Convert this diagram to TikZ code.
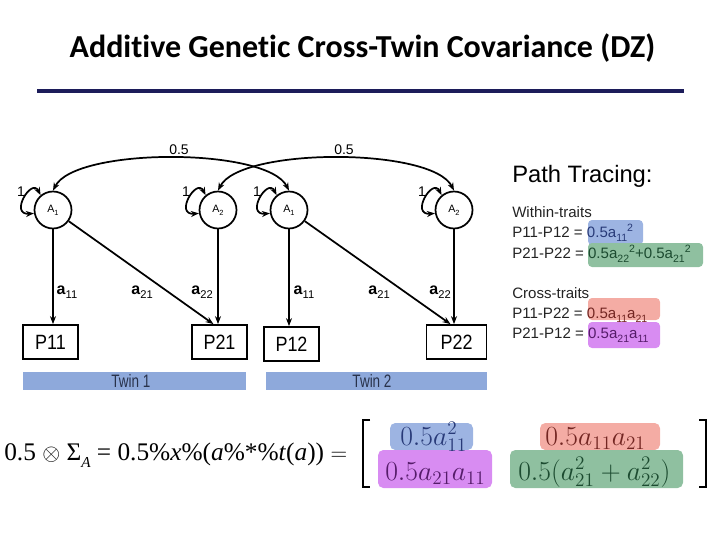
\documentclass[tikz,border=0pt]{standalone}
\usepackage{graphicx}
\usepackage{fontspec}
\setmainfont{Liberation Sans}
\newfontfamily\titlefont[Ligatures=CommonOff]{Carlito}
\newfontfamily\eqfont{Liberation Serif}
\usetikzlibrary{arrows.meta}
\definecolor{navyline}{RGB}{28,28,90}
\definecolor{barblue}{RGB}{142,169,219}
\definecolor{bartext}{RGB}{40,50,75}
\definecolor{hlblue}{RGB}{157,180,226}
\definecolor{hlgreen}{RGB}{143,192,160}
\definecolor{hlred}{RGB}{244,172,164}
\definecolor{hlpurple}{RGB}{216,140,242}
\definecolor{txblue}{RGB}{40,58,120}
\definecolor{txgreen}{RGB}{28,75,48}
\definecolor{txred}{RGB}{115,38,34}
\definecolor{txpurple}{RGB}{85,28,105}
\definecolor{txgrey}{RGB}{35,35,35}
\newcommand{\mysub}[1]{\raisebox{-0.28em}{\scalebox{0.7}{#1}}}
\newcommand{\mysup}[1]{\raisebox{0.38em}{\scalebox{0.7}{#1}}}
\newcommand{\hs}[1]{\scalebox{0.87}[1]{#1}}
\begin{document}
\begin{tikzpicture}[x=0.75pt,y=0.75pt,
  latent/.style={circle, draw, line width=1.3pt, minimum size=27.75pt, inner sep=0pt, font=\fontsize{8}{9}\selectfont},
  manifest/.style={rectangle, draw, line width=1.3pt, minimum width=41.25pt, minimum height=25.5pt, inner sep=0pt, font=\fontsize{15.5}{18}\selectfont},
  onepath/.style={line width=1.3pt, -{Stealth[length=6pt,width=4.5pt]}},
  twopath/.style={line width=1.3pt, {Stealth[length=6pt,width=4.5pt]}-{Stealth[length=6pt,width=4.5pt]}},
  loadlab/.style={font=\fontsize{12}{14}\selectfont},
  numlab/.style={font=\fontsize{10.5}{12}\selectfont},
  twinbar/.style={fill=barblue, draw=none, inner sep=0pt, minimum height=13.5pt, text=bartext, font=\fontsize{13.5}{15}\selectfont},
  rtext/.style={anchor=base west, inner sep=0pt, text=txgrey, font=\fontsize{11.3}{13}\selectfont},
  mtext/.style={anchor=base west, inner sep=0pt, font=\fontsize{21}{25}\selectfont}
]
\useasboundingbox (0,0) rectangle (720,540);

% title
\node[font=\titlefont\bfseries\fontsize{24}{28}\selectfont] (title) at (362.5,492) {Additive Genetic Cross-Twin Covariance (DZ)};
\coordinate (ruleL) at (37,449);
\coordinate (ruleR) at (684,449);
\draw[line width=3pt, navyline] (ruleL) -- (ruleR);

% latent variables
\node[latent] (A11) at (53,330) {A\mysub{1}};
\node[latent] (A21) at (218,330) {A\mysub{2}};
\node[latent] (A12) at (289,330) {A\mysub{1}};
\node[latent] (A22) at (454,330) {A\mysub{2}};

% manifest variables
\node[manifest] (P11) at (50.5,198) {\hs{P11}};
\node[manifest] (P21) at (219.5,198) {\hs{P21}};
\node[manifest] (P12) at (291.5,196) {\hs{P12}};
\node[manifest, minimum width=45pt] (P22) at (456.5,198) {\hs{P22}};

% self loops
\foreach \n in {A11,A21,A12,A22}{
  \draw[twopath] (\n.130) .. controls +(-9,18) and +(-25,-2) .. (\n.190);
  \node[numlab] (one\n) at ([shift={(-32,18)}]\n.center) {1};
}

% covariances
\draw[twopath] (A11.north) .. controls +(22,43.5) and +(-22,43.5) .. (A12.north);
\draw[twopath] (A21.north) .. controls +(22,43.5) and +(-22,43.5) .. (A22.north);
\node[numlab] (cov1) at (179,390) {0.5};
\node[numlab] (cov2) at (344,390) {0.5};

% loadings
\draw[onepath] (A11) -- (A11 |- P11.north);
\draw[onepath] (A11) -- ([xshift=-4.5pt]P21.north);
\draw[onepath] (A21) -- (A21 |- P21.north);
\draw[onepath] (A12) -- (A12 |- P12.north);
\draw[onepath] (A12) -- ([xshift=-4.5pt]P22.north);
\draw[onepath] (A22) -- (A22 |- P22.north);

\node[loadlab] (l11a) at (67,248) {\textbf{a}\mysub{11}};
\node[loadlab] (l21a) at (142,248) {\textbf{a}\mysub{21}};
\node[loadlab] (l22a) at (202,248) {\textbf{a}\mysub{22}};
\node[loadlab] (l11b) at (304,248) {\textbf{a}\mysub{11}};
\node[loadlab] (l21b) at (379,248) {\textbf{a}\mysub{21}};
\node[loadlab] (l22b) at (440,248) {\textbf{a}\mysub{22}};

% twin bars
\node[twinbar, minimum width=167.25pt] (bar1) at (134.5,159) {};
\node[twinbar, minimum width=165.75pt] (bar2) at (376.5,159) {};
\node[text=bartext, font=\fontsize{13.5}{15}\selectfont, inner sep=0pt] (tw1) at (131,159) {\scalebox{0.75}[1]{Twin 1}};
\node[text=bartext, font=\fontsize{13.5}{15}\selectfont, inner sep=0pt] (tw2) at (372,159) {\scalebox{0.75}[1]{Twin 2}};

% path tracing text
\node[anchor=base west, inner sep=0pt, font=\fontsize{17.8}{20}\selectfont] (pt) at (512,358) {Path Tracing:};
\fill[hlblue, rounded corners=3pt] (588,295) rectangle (643,320);
\fill[hlgreen, rounded corners=3pt] (588,273) rectangle (703,297);
\fill[hlred, rounded corners=3pt] (588,220) rectangle (660,242);
\fill[hlpurple, rounded corners=3pt] (588,192) rectangle (660,218);
\node[rtext] (wt) at (512,323) {Within-traits};
\node[rtext] (r1) at (512,303) {P11-P12 = \textcolor{txblue}{0.5a\mysub{11}\mysup{2}}};
\node[rtext] (r2) at (512,282) {P21-P22 = \textcolor{txgreen}{0.5a\mysub{22}\mysup{2}+0.5a\mysub{21}\mysup{2}}};
\node[rtext] (ct) at (512,242) {Cross-traits};
\node[rtext] (r3) at (512,222) {P11-P22 = \textcolor{txred}{0.5a\mysub{11}a\mysub{21}}};
\node[rtext] (r4) at (512,202) {P21-P12 = \textcolor{txpurple}{0.5a\mysub{21}a\mysub{11}}};

% equation
\node[anchor=base west, inner sep=0pt, font=\eqfont\fontsize{19}{23}\selectfont] (eq) at (4,80)
  {0.5 $\otimes$ Σ\raisebox{-0.3em}{\scalebox{0.6}{\textit{A}}} = 0.5\%\textit{x}\%(\textit{a}\%*\%\textit{t}(\textit{a})) $=$};

% matrix
\draw[line width=1.5pt] (370,120) -- (363,120) -- (363,53) -- (370,53);
\draw[line width=1.5pt] (699,120) -- (706,120) -- (706,53) -- (699,53);
\fill[hlblue, rounded corners=4pt] (390,90) rectangle (473,117);
\fill[hlred, rounded corners=4pt] (540,90) rectangle (660,117);
\fill[hlpurple, rounded corners=4pt] (378,52) rectangle (492,90);
\fill[hlgreen, rounded corners=4pt] (510,52) rectangle (683,90);
\node[mtext, text=txblue] (m11) at (400,95) {$0.5a_{11}^2$};
\node[mtext, text=txred] (m12) at (545,95) {$0.5a_{11}a_{21}$};
\node[mtext, text=txpurple] (m21) at (385,60) {$0.5a_{21}a_{11}$};
\node[mtext, text=txgreen] (m22) at (518,60) {$0.5(a_{21}^2+a_{22}^2)$};
\end{tikzpicture}
\end{document}
